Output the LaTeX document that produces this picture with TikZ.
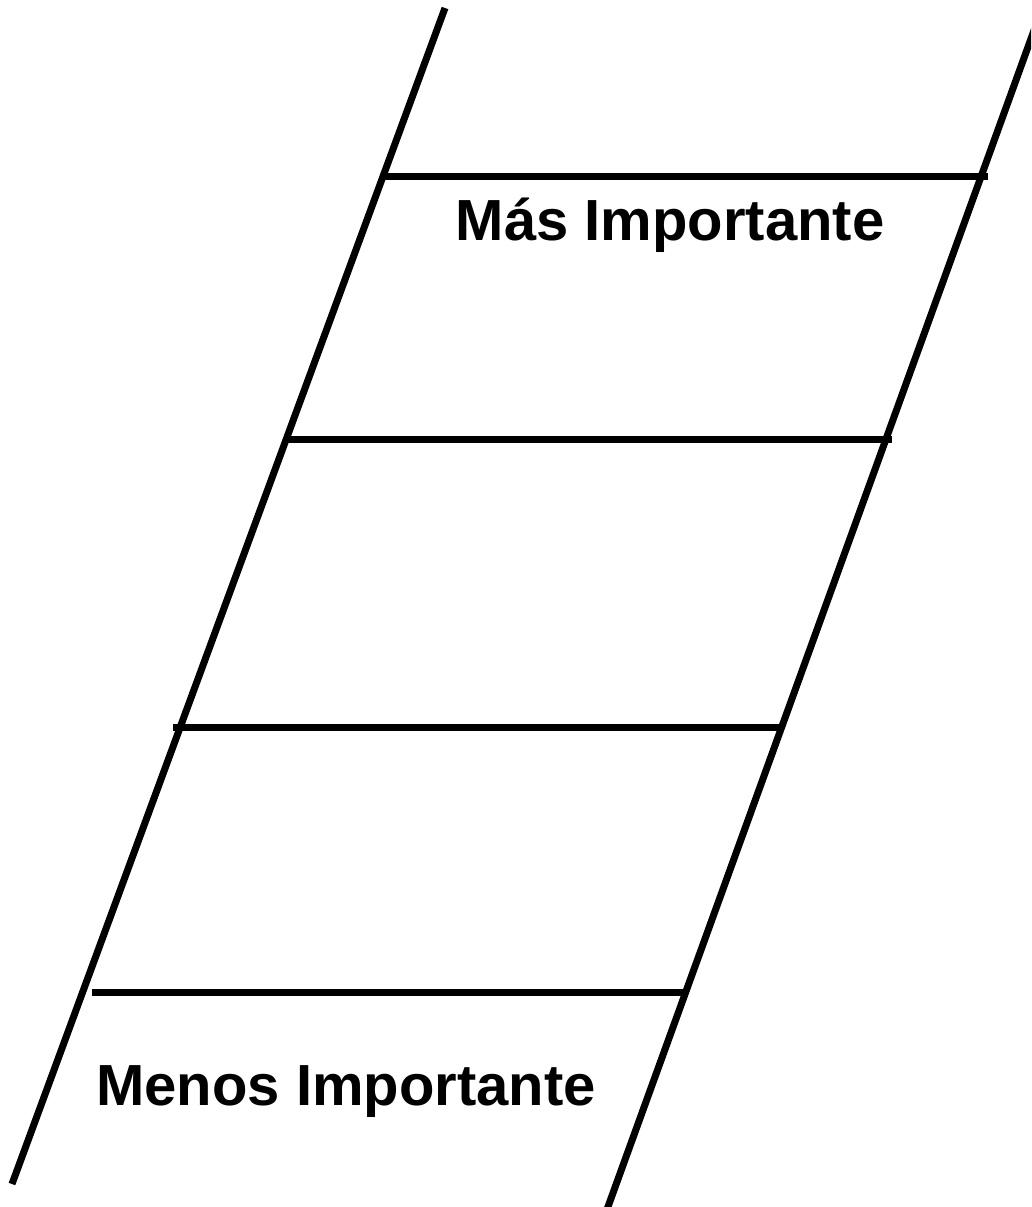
\documentclass[tikz,border=0pt]{standalone}
\usepackage{fontspec}
\setmainfont{Liberation Sans}
\begin{document}
\begin{tikzpicture}[x=1pt,y=-1pt,
  rail/.style={line width=7pt,black},
  rung/.style={line width=7pt,black},
  lbl/.style={font=\fontsize{58}{66}\selectfont\bfseries,anchor=base,inner sep=0pt}]
\useasboundingbox (0,0) rectangle (1031,1207);
\clip (0,0) rectangle (1031,1207);
% rails
\coordinate (LT) at (445,8);
\coordinate (LB) at (12,1184);
\coordinate (RT) at (1045,0);
\coordinate (RB) at (605,1215);
\draw[rail] (LT) -- (LB);
\draw[rail] (RT) -- (RB);
% rungs
\coordinate (r1a) at (384,176); \coordinate (r1b) at (988,176);
\coordinate (r2a) at (286,439); \coordinate (r2b) at (892,439);
\coordinate (r3a) at (173,727); \coordinate (r3b) at (780,727);
\coordinate (r4a) at (92,992);  \coordinate (r4b) at (683,992);
\draw[rung] (r1a) -- (r1b);
\draw[rung] (r2a) -- (r2b);
\draw[rung] (r3a) -- (r3b);
\draw[rung] (r4a) -- (r4b);
% labels
\node[lbl] (mas) at (670,240) {Más Importante};
\node[lbl] (menos) at (346,1105) {Menos Importante};
\end{tikzpicture}
\end{document}
